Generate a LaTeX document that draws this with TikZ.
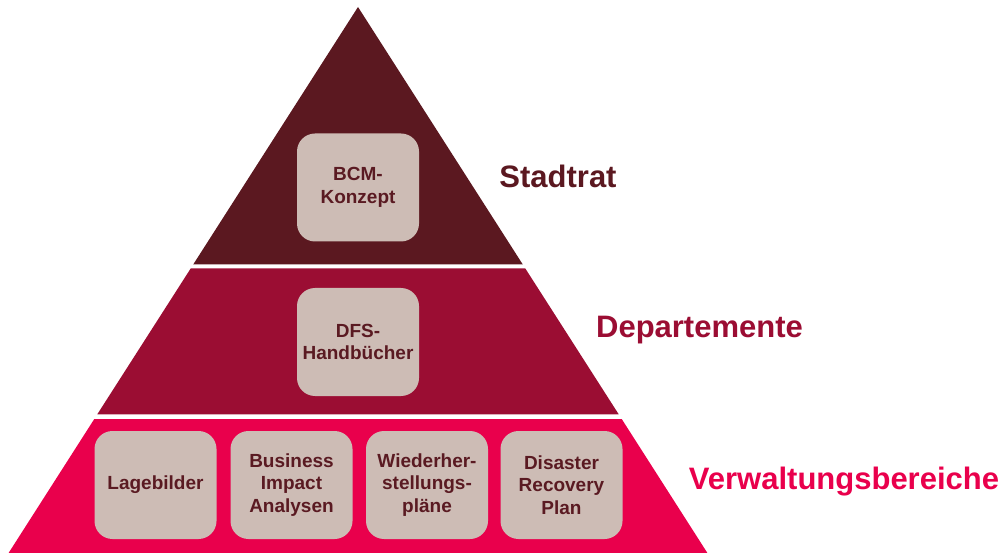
\documentclass[tikz,border=0pt]{standalone}
\usepackage{fontspec}
\setmainfont{Liberation Sans}
\definecolor{topc}{HTML}{5B1820}
\definecolor{midc}{HTML}{9B0D33}
\definecolor{botc}{HTML}{E9004C}
\definecolor{boxc}{HTML}{CDBCB5}
\definecolor{boxt}{HTML}{5A1A22}
\begin{document}
\begin{tikzpicture}[x=1pt,y=-1pt,
  card/.style={fill=boxc,rounded corners=18pt,minimum width=122pt,minimum height=108pt,
    align=center,text=boxt,inner sep=0pt,font=\fontsize{19}{22.5}\selectfont\bfseries},
  lvl/.style={font=\fontsize{31}{36}\selectfont\bfseries,inner sep=0pt}]
\useasboundingbox (0,0) rectangle (1007,553);
\fill[topc] (358,7) -- (193.2,264.5) -- (522.8,264.5) -- cycle;
\fill[midc] (190.8,268.3) -- (525.2,268.3) -- (618.7,414.3) -- (97.3,414.3) -- cycle;
\fill[botc] (94.3,419) -- (621.7,419) -- (707.4,553) -- (8.6,553) -- cycle;
\node[card] (bcm) at (358,187.5) {BCM-\\Konzept};
\node[card] (dfs) at (358,342) {DFS-\\Handbücher};
\node[card] (lage) at (155.5,485) {Lagebilder};
\node[card] (bia) at (291.5,485) {Business\\Impact\\Analysen};
\node[card] (wied) at (427,485) {Wiederher-\\stellungs-\\pläne};
\node[card] (drp) at (561.5,485) {Disaster\\Recovery\\Plan};
\node[lvl,text=topc] (stadt) at (558,176) {Stadtrat};
\node[lvl,text=midc] (dep) at (699.5,330) {Departemente};
\node[lvl,text=botc] (verw) at (844,482) {Verwaltungsbereiche};
\end{tikzpicture}
\end{document}
